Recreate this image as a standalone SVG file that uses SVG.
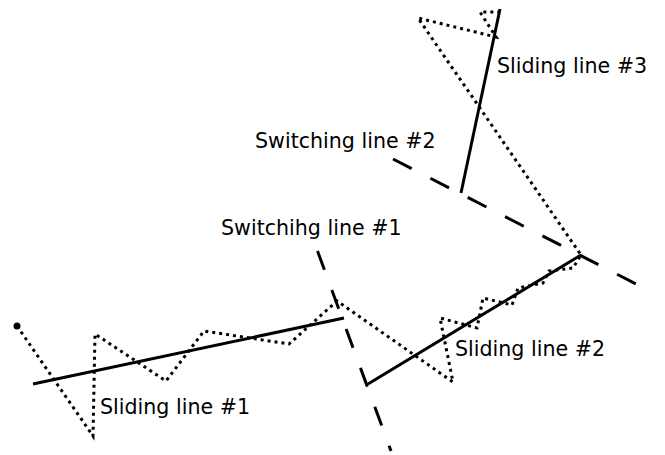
<svg xmlns="http://www.w3.org/2000/svg" width="665" height="455" viewBox="0 0 665 455">
<style>
.solid{fill:none;stroke:#000;stroke-width:3}
.dash{fill:none;stroke:#000;stroke-width:3;stroke-dasharray:20 21.5}
.dot{fill:none;stroke:#000;stroke-width:3;stroke-dasharray:3 4;stroke-linejoin:miter}
text{font-family:"DejaVu Sans",sans-serif;font-size:20.6px;fill:#000}
</style>
<rect width="665" height="455" fill="#fff"/>
<g id="trajectory">
<circle cx="17" cy="326" r="3.5" fill="#000"/>
<path class="dot" d="M17,326 L93,436 L95,334 L166,381 L204,331 L289,344 L337,301 L453,382 L440,318 L477,328 L483,298 L512,305 L518,288 L543,283 L549,271 L573,268 L581,255 L418,18 L496,37 L480,12 L500,12"/>
</g>
<g id="switching-lines">
<path class="dash" d="M317.5,251 L391,451"/>
<path class="dash" style="stroke-dasharray:21 21" d="M393,159 L637,284.5"/>
</g>
<g id="sliding-lines">
<path class="solid" d="M33,384 L344,318"/>
<path class="solid" d="M368,384 L581,255"/>
<path class="solid" d="M461,193 L500,9"/>
</g>
<g id="labels">
<text x="100" y="414">Sliding line #1</text>
<text x="455" y="356">Sliding line #2</text>
<text x="497" y="73">Sliding line #3</text>
<text x="255" y="148">Switching line #2</text>
<text x="221" y="235">Switchihg line #1</text>
</g>
</svg>
